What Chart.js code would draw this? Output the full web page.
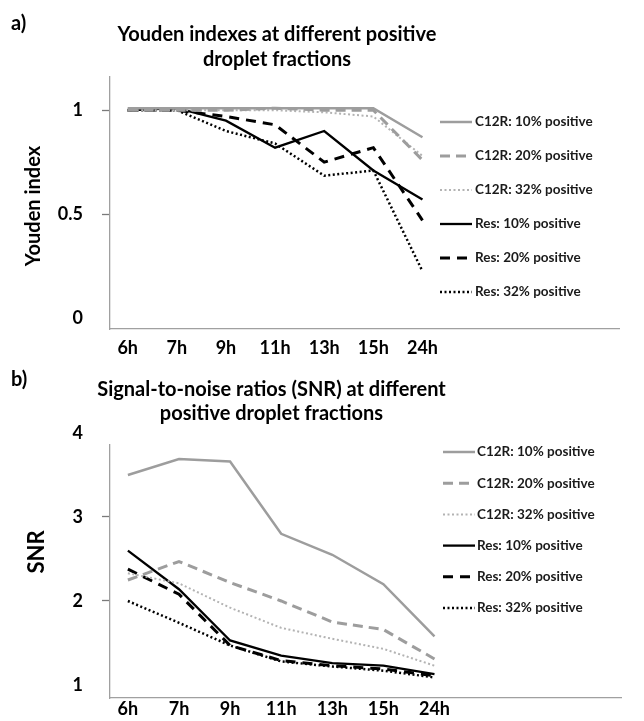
<!DOCTYPE html>
<html><head><meta charset="utf-8">
<script src="https://cdn.jsdelivr.net/npm/chart.js@4/dist/chart.umd.min.js"></script>
<style>
html,body{margin:0;padding:0;background:#fff;}
#wrap{position:relative;width:644px;height:721px;overflow:hidden;}
.panel{position:absolute;left:0;width:644px;}
.panel canvas{display:block;}
.tag{position:absolute;left:11px;font:bold 20px Lato, sans-serif;color:#000;line-height:24px;}
.ttl{position:absolute;width:500px;text-align:center;font:bold 20px Lato, sans-serif;color:#000;white-space:nowrap;}
.ytl{position:absolute;width:200px;height:26px;line-height:26px;text-align:center;font-family:Lato, sans-serif;font-weight:bold;color:#000;transform:rotate(-90deg);transform-origin:50% 50%;white-space:nowrap;}
</style></head><body>
<div id="wrap">
  <div class="panel" style="top:0;height:360px"><canvas id="ca" width="644" height="360"></canvas></div>
  <div class="tag" style="top:10px">a)</div>
  <div class="ttl" id="ta" style="left:27px;top:20.5px;line-height:25px"></div>
  <div class="ytl" id="ya" style="left:-68px;top:193px;font-size:20px"></div>
  <div class="panel" style="top:360px;height:361px"><canvas id="cb" width="644" height="361"></canvas></div>
  <div class="tag" style="top:366px">b)</div>
  <div class="ttl" id="tb" style="left:21.5px;top:376px;line-height:24px"></div>
  <div class="ytl" id="yb" style="left:-64px;top:539px;font-size:22px"></div>
</div>
<script>
// ---------- data ----------
const categories = ['6h', '7h', '9h', '11h', '13h', '15h', '24h'];
const seriesNames = ['C12R: 10% positive', 'C12R: 20% positive', 'C12R: 32% positive',
                     'Res: 10% positive', 'Res: 20% positive', 'Res: 32% positive'];

const youdenC12R10 = [1.01, 1.01, 1.01, 1.01, 1.01, 1.01, 0.87];
const youdenC12R20 = [1.00, 1.00, 1.00, 1.01, 1.00, 1.00, 0.76];
const youdenC12R32 = [1.00, 1.00, 1.00, 1.00, 0.99, 0.97, 0.78];
const youdenRes10  = [1.00, 1.01, 0.95, 0.82, 0.90, 0.71, 0.57];
const youdenRes20  = [1.00, 1.00, 0.97, 0.93, 0.75, 0.82, 0.47];
const youdenRes32  = [1.00, 1.00, 0.90, 0.84, 0.685, 0.71, 0.225];

const snrC12R10 = [3.50, 3.69, 3.66, 2.80, 2.55, 2.20, 1.58];
const snrC12R20 = [2.25, 2.47, 2.22, 2.00, 1.75, 1.66, 1.31];
const snrC12R32 = [2.33, 2.21, 1.92, 1.68, 1.55, 1.43, 1.23];
const snrRes10  = [2.60, 2.14, 1.53, 1.35, 1.26, 1.23, 1.13];
const snrRes20  = [2.38, 2.08, 1.47, 1.29, 1.23, 1.19, 1.11];
const snrRes32  = [2.00, 1.74, 1.47, 1.28, 1.22, 1.17, 1.09];

const youdenTicks = [0, 0.5, 1];
const snrTicks = [1, 2, 3, 4];

const titleA = ['Youden indexes at different positive', 'droplet fractions'];
const titleB = ['Signal-to-noise ratios (SNR) at different', 'positive droplet fractions'];
const yTitleA = 'Youden index';
const yTitleB = 'SNR';

// ---------- titles as text ----------
function setTitle(id, lines) {
  const el = document.getElementById(id);
  [].concat(lines).forEach((t, i) => {
    if (i) el.appendChild(document.createElement('br'));
    el.appendChild(document.createTextNode(t));
  });
}
setTitle('ta', titleA);
setTitle('tb', titleB);
setTitle('ya', yTitleA);
setTitle('yb', yTitleB);

// ---------- styles ----------
const styles = [
  {borderColor: '#9d9d9d', borderWidth: 2.5, borderDash: []},
  {borderColor: '#9d9d9d', borderWidth: 3, borderDash: [10, 6]},
  {borderColor: '#b3b3b3', borderWidth: 2, borderDash: [2, 2.5]},
  {borderColor: '#000000', borderWidth: 2.3, borderDash: []},
  {borderColor: '#000000', borderWidth: 3, borderDash: [10, 7]},
  {borderColor: '#000000', borderWidth: 2.5, borderDash: [2, 2.5]}
];

Chart.defaults.font.family = 'Lato, sans-serif';
Chart.defaults.font.weight = 'bold';
Chart.defaults.color = '#000';

const inlineLegend = {
  id: 'inlineLegend',
  afterDatasetsDraw(chart, args, opts) {
    const ctx = chart.ctx;
    ctx.save();
    chart.data.datasets.forEach((ds, i) => {
      const y = opts.top + i * opts.step;
      ctx.beginPath();
      ctx.strokeStyle = ds.borderColor;
      ctx.lineWidth = ds.borderWidth;
      ctx.setLineDash(ds.borderDash || []);
      ctx.moveTo(opts.left, y);
      ctx.lineTo(opts.left + opts.sample, y);
      ctx.stroke();
      ctx.setLineDash([]);
      ctx.fillStyle = '#1a1a1a';
      ctx.font = 'bold ' + opts.fontSize + 'px Lato, sans-serif';
      ctx.textBaseline = 'middle';
      ctx.textAlign = 'left';
      ctx.fillText(ds.label, opts.left + opts.sample + opts.gap, y);
    });
    ctx.restore();
  }
};

function makeDatasets(seriesList) {
  return seriesList.map((vals, i) => Object.assign({
    label: seriesNames[i],
    data: vals.map((v, k) => ({x: k, y: v})),
    fill: false,
    tension: 0,
    pointRadius: 0,
    borderCapStyle: 'butt',
    borderJoinStyle: 'miter'
  }, styles[i]));
}

function makeChart(id, cfg) {
  return new Chart(document.getElementById(id), {
    type: 'line',
    data: {datasets: makeDatasets(cfg.series)},
    plugins: [inlineLegend],
    options: {
      responsive: false,
      animation: false,
      layout: {padding: {left: 0, right: cfg.padRight, top: cfg.padTop, bottom: 0}},
      plugins: {
        legend: {display: false},
        tooltip: {enabled: false},
        title: {display: false},
        inlineLegend: cfg.legend
      },
      scales: {
        x: {
          type: 'linear',
          min: cfg.xMin, max: cfg.xMax,
          afterBuildTicks: (s) => { s.ticks = categories.map((c, i) => ({value: i})); },
          afterFit: (s) => { s.height = cfg.xHeight; s.paddingLeft = 0; s.paddingRight = 0; },
          ticks: {
            callback: (v) => categories[v],
            font: {size: 18, weight: 'bold'},
            color: '#000',
            padding: cfg.xPad,
            maxRotation: 0,
            autoSkip: false
          },
          grid: {display: true, drawOnChartArea: false, drawTicks: false},
          border: {display: true, color: '#a0a0a0', width: 1.3}
        },
        y: {
          type: 'linear',
          min: cfg.yMin, max: cfg.yMax,
          afterBuildTicks: (s) => { s.ticks = cfg.yTicks.map(v => ({value: v})); },
          afterFit: (s) => { s.width = 110; s.paddingTop = 0; s.paddingBottom = 0; },
          ticks: {
            font: {size: 18, weight: 'bold'},
            color: '#000',
            padding: 19,
            callback: (v) => String(v)
          },
          grid: {
            display: true, drawOnChartArea: false, drawTicks: true, tickLength: 8, tickWidth: 1.3,
            tickColor: (c) => (c.tick && c.tick.value > cfg.yMin + 0.2 && c.tick.value < cfg.yMax) ? '#7a7a7a' : 'rgba(0,0,0,0)'
          },
          border: {display: true, color: '#a0a0a0', width: 1.3},
          title: {display: false}
        }
      }
    }
  });
}

makeChart('ca', {
  series: [youdenC12R10, youdenC12R20, youdenC12R32, youdenRes10, youdenRes20, youdenRes32],
  padTop: 77, padRight: 25,
  xMin: -0.36, xMax: 10, xHeight: 31, xPad: 8,
  yMin: -0.053, yMax: 1.16, yTicks: youdenTicks,
  legend: {left: 440, top: 122, step: 34, sample: 32, gap: 3, fontSize: 13.5}
});

makeChart('cb', {
  series: [snrC12R10, snrC12R20, snrC12R32, snrRes10, snrRes20, snrRes32],
  padTop: 85, padRight: 23,
  xMin: -0.35, xMax: 9.65, xHeight: 23, xPad: 0,
  yMin: 0.845, yMax: 3.857, yTicks: snrTicks,
  legend: {left: 443, top: 92, step: 31.2, sample: 32, gap: 2, fontSize: 13.5}
});
</script>
</body></html>
